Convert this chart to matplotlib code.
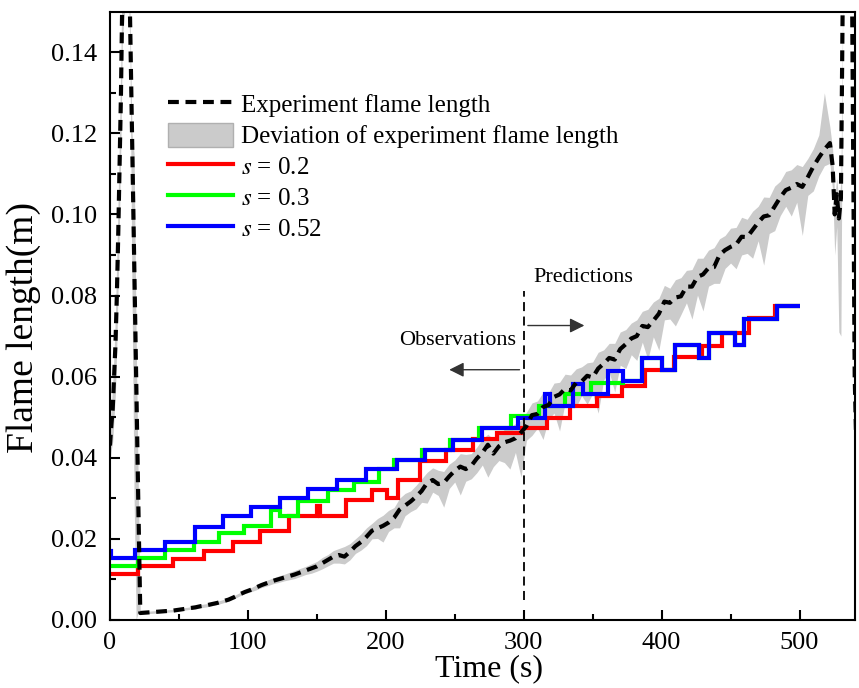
"""Flame length: experiment vs. stepwise predictions for several s values."""
import matplotlib.pyplot as plt
import numpy as np
from matplotlib.patches import Patch
from matplotlib.lines import Line2D

plt.rcParams.update({
    'font.family': ['Liberation Serif', 'DejaVu Serif'],
    'mathtext.fontset': 'stix',
    'axes.linewidth': 1.5,
})

# ---- experiment flame length (m) ----
# start-up transient (t < 22 s), values partly above the axis limit
t_left = [0, 1, 2, 3, 4, 5, 6, 7, 8, 9, 13, 14.5, 16, 17.5, 19, 20.5]
v_left = [0.043, 0.048, 0.052, 0.060, 0.068, 0.080, 0.095, 0.112, 0.130, 0.155,
          0.160, 0.150, 0.120, 0.090, 0.060, 0.030]
hi_left = [0.004, 0.005, 0.006, 0.006, 0.008, 0.010, 0.010, 0.010, 0.010, 0.010,
           0.0, 0.0, 0.0, 0.025, 0.010, 0.004]
lo_left = [0.004, 0.006, 0.008, 0.010, 0.012, 0.012, 0.012, 0.012, 0.012, 0.012,
           0.0, 0.010, 0.040, 0.060, 0.060, 0.028]

# regular record, every 4 s from 22 s to 522 s
t_main = np.arange(22, 523, 4)
v_main = [
    0.0017, 0.0018, 0.0019, 0.0020, 0.0021, 0.0022, 0.0023, 0.0025, 0.0027, 0.0029,
    0.0031, 0.0034, 0.0036, 0.0039, 0.0042, 0.0046, 0.0050, 0.0056, 0.0063, 0.0069,
    0.0074, 0.0080, 0.0086, 0.0091, 0.0096, 0.0100, 0.0104, 0.0108, 0.0112, 0.0117,
    0.0122, 0.0127, 0.0132, 0.0140, 0.0148, 0.0156, 0.0160, 0.0156, 0.0168, 0.0182,
    0.0192, 0.0205, 0.0220, 0.0226, 0.0232, 0.0240, 0.0252, 0.0272, 0.0282, 0.0292,
    0.0304, 0.0318, 0.0338, 0.0345, 0.0335, 0.0338, 0.0354, 0.0368, 0.0378, 0.0372,
    0.0380, 0.0398, 0.0412, 0.0432, 0.0410, 0.0428, 0.0438, 0.0442, 0.0448, 0.0462,
    0.0478, 0.0505, 0.0508, 0.0525, 0.0530, 0.0550, 0.0556, 0.0570, 0.0566, 0.0585,
    0.0588, 0.0602, 0.0598, 0.0620, 0.0632, 0.0646, 0.0642, 0.0668, 0.0680, 0.0694,
    0.0700, 0.0725, 0.0722, 0.0738, 0.0755, 0.0785, 0.0782, 0.0795, 0.0798, 0.0822,
    0.0822, 0.0846, 0.0852, 0.0868, 0.0870, 0.0900, 0.0912, 0.0920, 0.0926, 0.0945,
    0.0944, 0.0962, 0.0980, 0.0995, 0.0998, 0.1020, 0.1042, 0.1060, 0.1066, 0.1075,
    0.1068, 0.1092, 0.1118, 0.1140, 0.1160, 0.1176,
]
hi_main = [
    0.0003, 0.0003, 0.0003, 0.0003, 0.0003, 0.0003, 0.0003, 0.0003, 0.0003, 0.0003,
    0.0004, 0.0004, 0.0004, 0.0004, 0.0004, 0.0004, 0.0004, 0.0004, 0.0004, 0.0004,
    0.0005, 0.0006, 0.0006, 0.0007, 0.0007, 0.0008, 0.0008, 0.0009, 0.0010, 0.0010,
    0.0010, 0.0011, 0.0012, 0.0014, 0.0013, 0.0015, 0.0016, 0.0025, 0.0020, 0.0018,
    0.0020, 0.0022, 0.0018, 0.0024, 0.0026, 0.0030, 0.0025, 0.0028, 0.0030, 0.0026,
    0.0028, 0.0030, 0.0026, 0.0030, 0.0034, 0.0028, 0.0030, 0.0026, 0.0032, 0.0036,
    0.0030, 0.0028, 0.0034, 0.0026, 0.0036, 0.0030, 0.0032, 0.0034, 0.0036, 0.0030,
    0.0034, 0.0030, 0.0032, 0.0036, 0.0030, 0.0034, 0.0030, 0.0036, 0.0038, 0.0034,
    0.0036, 0.0032, 0.0038, 0.0040, 0.0034, 0.0036, 0.0040, 0.0042, 0.0036, 0.0038,
    0.0040, 0.0036, 0.0044, 0.0046, 0.0038, 0.0040, 0.0036, 0.0044, 0.0046, 0.0040,
    0.0042, 0.0046, 0.0040, 0.0044, 0.0048, 0.0040, 0.0036, 0.0046, 0.0042, 0.0048,
    0.0044, 0.0046, 0.0040, 0.0048, 0.0044, 0.0050, 0.0040, 0.0046, 0.0044, 0.0048,
    0.0050, 0.0046, 0.0044, 0.0056, 0.0140, 0.0040,
]
lo_main = [
    0.0003, 0.0003, 0.0003, 0.0003, 0.0003, 0.0003, 0.0003, 0.0003, 0.0003, 0.0003,
    0.0004, 0.0004, 0.0004, 0.0004, 0.0004, 0.0004, 0.0004, 0.0004, 0.0004, 0.0004,
    0.0005, 0.0006, 0.0006, 0.0007, 0.0007, 0.0008, 0.0008, 0.0009, 0.0010, 0.0010,
    0.0010, 0.0012, 0.0012, 0.0014, 0.0015, 0.0016, 0.0020, 0.0018, 0.0020, 0.0018,
    0.0020, 0.0022, 0.0020, 0.0025, 0.0040, 0.0022, 0.0025, 0.0045, 0.0025, 0.0025,
    0.0030, 0.0028, 0.0050, 0.0030, 0.0028, 0.0060, 0.0030, 0.0028, 0.0070, 0.0030,
    0.0032, 0.0035, 0.0030, 0.0080, 0.0032, 0.0035, 0.0050, 0.0070, 0.0035, 0.0110,
    0.0035, 0.0050, 0.0035, 0.0080, 0.0035, 0.0040, 0.0090, 0.0035, 0.0040, 0.0060,
    0.0035, 0.0070, 0.0040, 0.0110, 0.0040, 0.0035, 0.0080, 0.0040, 0.0060, 0.0040,
    0.0060, 0.0040, 0.0080, 0.0040, 0.0090, 0.0045, 0.0040, 0.0070, 0.0045, 0.0040,
    0.0080, 0.0045, 0.0090, 0.0045, 0.0040, 0.0070, 0.0045, 0.0040, 0.0060, 0.0045,
    0.0040, 0.0070, 0.0045, 0.0120, 0.0045, 0.0060, 0.0045, 0.0040, 0.0070, 0.0045,
    0.0120, 0.0045, 0.0060, 0.0045, 0.0040, 0.0050,
]

# end of the run (flame collapses, sensor saturates)
t_right = [524, 525.5, 527, 528.5, 530, 531.5, 538, 540, 542]
v_right = [0.112, 0.100, 0.105, 0.099, 0.104, 0.160, 0.160, 0.060, 0.030]
hi_right = [0.004, 0.004, 0.004, 0.004, 0.004, 0.0, 0.0, 0.0, 0.0]
lo_right = [0.006, 0.010, 0.008, 0.028, 0.034, 0.0, 0.0, 0.0, 0.0]

# ---- predicted flame length, piecewise constant ----
red_edges = [0, 20.5, 45.7, 68, 89, 108.7, 130, 150, 152.5, 171, 190, 201, 209, 225,
             244, 263, 281, 298.5, 316.7, 333.5, 353, 371, 388, 409, 429, 443.5, 463,
             482, 500]
red_vals = [0.0113, 0.0133, 0.0151, 0.0170, 0.0192, 0.0218, 0.0255, 0.0280, 0.0255,
            0.0296, 0.0321, 0.0300, 0.0346, 0.0391, 0.0420, 0.0446, 0.0462, 0.0473,
            0.0498, 0.0527, 0.0551, 0.0576, 0.0617, 0.0649, 0.0675, 0.0708, 0.0745,
            0.0775]

green_edges = [0, 20.5, 40, 61, 79, 97, 116.5, 123, 136.7, 158, 177, 195, 206, 226,
               246.5, 267.5, 291, 311, 330, 349, 372, 385.5, 400, 410, 427, 434,
               453.5, 459.5, 483.6, 500.5]
green_vals = [0.0132, 0.0152, 0.0173, 0.0192, 0.0214, 0.0232, 0.0272, 0.0255, 0.0292,
              0.0321, 0.0341, 0.0371, 0.0395, 0.0420, 0.0444, 0.0473, 0.0502, 0.0528,
              0.0556, 0.0585, 0.0588, 0.0646, 0.0617, 0.0677, 0.0646, 0.0708, 0.0677,
              0.0741, 0.0774]

blue_edges = [0, 1, 18, 40, 61.6, 82, 102.5, 123, 143.7, 164.7, 186, 208, 228.5, 249,
              270, 296, 315.4, 319, 336, 343, 361, 372, 385.5, 400, 410, 427, 434,
              453.5, 459.5, 483.6, 500.5]
blue_vals = [0.0170, 0.0152, 0.0173, 0.0192, 0.0230, 0.0256, 0.0278, 0.0300, 0.0323,
             0.0346, 0.0371, 0.0395, 0.0420, 0.0444, 0.0473, 0.0498, 0.0558, 0.0528,
             0.0583, 0.0556, 0.0613, 0.0588, 0.0646, 0.0617, 0.0677, 0.0646, 0.0708,
             0.0677, 0.0741, 0.0774]

t_exp = np.concatenate([t_left, t_main, t_right])
v_exp = np.concatenate([v_left, v_main, v_right])
hi = np.concatenate([hi_left, hi_main, hi_right])
lo = np.concatenate([lo_left, lo_main, lo_right])

fig = plt.figure(figsize=(8.59, 6.88), dpi=100)
ax = fig.add_axes([0.128, 0.099, 0.867, 0.884])

ax.fill_between(t_exp, v_exp - lo, v_exp + hi, color='#cbcbcb', lw=0)
ax.plot(t_exp, v_exp, color='black', lw=3, ls=(0, (2.6, 1.6)))

ax.stairs(red_vals, red_edges, baseline=None, color='#ff0000', lw=3)
ax.stairs(green_vals, green_edges, baseline=None, color='#00ff00', lw=3)
ax.stairs(blue_vals, blue_edges, baseline=None, color='#0000ff', lw=3)

# observation / prediction split
ax.plot([300, 300], [0.005, 0.081], color='black', lw=1.3, ls=(0, (5, 3)))
arrow = dict(arrowstyle='-|>', color='#333333', lw=1.0, mutation_scale=22)
ax.annotate('', xy=(346, 0.0726), xytext=(301, 0.0726), arrowprops=arrow)
ax.annotate('', xy=(244, 0.0617), xytext=(299, 0.0617), arrowprops=arrow)
ax.text(343, 0.0845, 'Predictions', ha='center', va='center', fontsize=16)
ax.text(252, 0.0690, 'Observations', ha='center', va='center', fontsize=16)

ax.set_xlim(0, 540)
ax.set_ylim(0, 0.15)
ax.set_xticks([0, 100, 200, 300, 400, 500])
ax.set_xticks(np.arange(50, 540, 100), minor=True)
ax.set_yticks(np.arange(0, 0.141, 0.02))
ax.set_yticks(np.arange(0.01, 0.15, 0.02), minor=True)
ax.yaxis.set_major_formatter(plt.FormatStrFormatter('%.2f'))
ax.tick_params(which='both', direction='in', width=1.5, labelsize=19)
ax.tick_params(which='major', length=7)
ax.tick_params(which='minor', length=4)
ax.tick_params(axis='x', which='major', pad=9)
ax.tick_params(axis='y', which='major', pad=9)

ax.set_xlabel('Time (s)', fontsize=23)
ax.xaxis.set_label_coords(0.509, -0.057)
ax.set_ylabel('Flame length(m)', fontsize=27)
ax.yaxis.set_label_coords(-0.092, 0.48)

handles = [
    Line2D([], [], color='black', lw=3, ls=(0, (2.6, 1.6))),
    Patch(facecolor='#cbcbcb', edgecolor='#b0b0b0'),
    Line2D([], [], color='#ff0000', lw=3),
    Line2D([], [], color='#00ff00', lw=3),
    Line2D([], [], color='#0000ff', lw=3),
]
labels = ['Experiment flame length', 'Deviation of experiment flame length',
          '$s$ = 0.2', '$s$ = 0.3', '$s$ = 0.52']
ax.legend(handles, labels, loc='upper left', bbox_to_anchor=(0.065, 0.885),
          frameon=False, fontsize=18, handlelength=2.6, handleheight=1.1,
          handletextpad=0.3, labelspacing=0.22, borderaxespad=0)

fig.savefig('out.png', dpi=100)
